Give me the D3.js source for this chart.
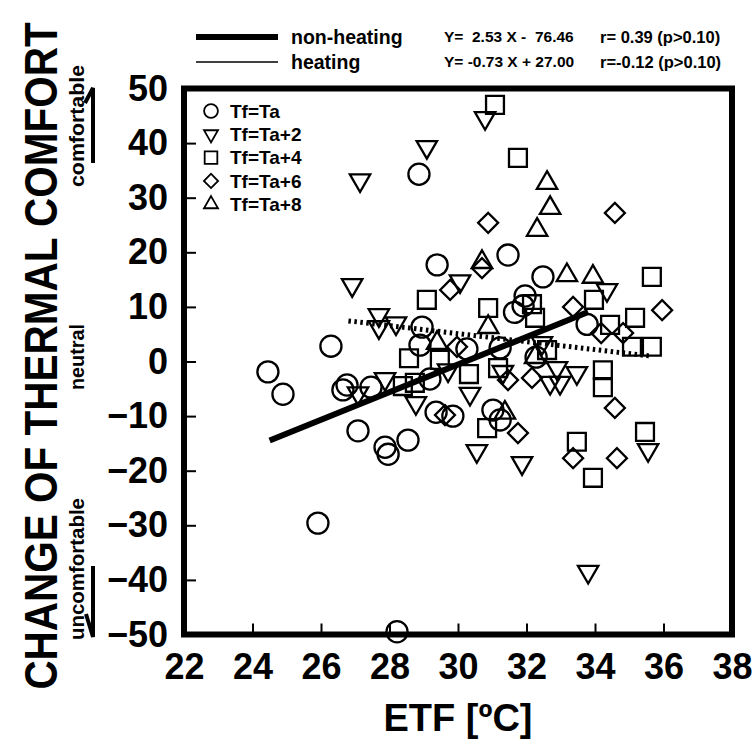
<!DOCTYPE html>
<html lang="en">
	<head>
		<meta charset="utf-8">
		<title>Thermal comfort vs ETF</title>
		<script type="text/javascript" src="https://cdn.jsdelivr.net/npm/d3@7"></script>
		<style type="text/css">
			body { margin: 0; background: #fff; }
			text { font-family: "Liberation Sans", Arial, sans-serif; font-weight: bold; fill: #000; }
		</style>
	</head>
	<body>
		<script type="text/javascript">

			//Width and height
			var w = 754;
			var h = 747;

			//Series: [ETF, change of thermal comfort]
			var tfTa = [[24.45,-1.9],[24.89,-6.0],[26.29,2.8],[25.91,-29.6],[28.22,-49.5],[28.86,34.3],
						[29.39,17.7],[31.46,19.5],[32.48,15.5],[28.95,6.3],[28.89,3.0],[30.26,2.3],
						[31.65,9.0],[31.96,12.0],[31.9,10.2],[33.77,6.8],[31.23,2.5],[32.28,0.8],
						[26.76,-4.3],[26.64,-5.2],[27.46,-4.7],[29.18,-3.2],[27.08,-12.7],[27.87,-15.7],
						[27.96,-17.0],[28.54,-14.4],[29.36,-9.3],[29.85,-10.0],[31.02,-8.9],[31.23,-10.7]];
			var tfTa2 = [[27.14,33.2],[29.09,39.3],[30.79,44.6],[26.91,14.0],[27.69,8.5],[27.69,6.3],
						[28.19,7.0],[30.06,14.7],[34.35,13.1],[27.87,-3.2],[27.08,-5.8],[29.71,-1.6],
						[28.77,-7.6],[30.35,-5.9],[30.55,-16.4],[31.87,-18.6],[33.8,-38.5],[35.55,-16.2],
						[32.45,3.4],[32.89,-1.2],[33.47,-2.1],[32.69,-3.9],[32.98,-3.9],[31.31,-1.9]];
			var tfTa4 = [[31.08,47.0],[31.75,37.3],[29.09,11.3],[28.57,0.6],[29.47,0.3],[30.32,-2.3],
						[28.39,-4.5],[28.74,-3.9],[30.88,9.8],[32.16,10.5],[32.25,8.0],[33.97,11.3],
						[35.66,15.5],[35.17,8.0],[34.44,6.7],[35.08,2.7],[35.66,2.7],[32.6,2.1],
						[31.17,-1.2],[34.23,-1.6],[34.23,-4.7],[30.85,-12.2],[33.47,-14.7],[35.46,-12.9],
						[33.94,-21.3]];
			var tfTa6 = [[34.58,27.2],[30.88,25.4],[29.77,13.1],[30.7,17.1],[33.36,10.0],[35.96,9.4],
						[34.18,5.2],[34.82,5.2],[29.97,2.7],[32.16,-3.0],[31.46,-3.4],[29.62,-9.8],
						[31.75,-13.1],[34.58,-8.5],[33.36,-17.7],[34.64,-17.7]];
			var tfTa8 = [[32.6,32.7],[32.69,28.1],[32.31,24.1],[30.7,18.2],[33.18,15.8],[33.94,15.5],
						[29.39,3.4],[30.88,6.3],[31.37,-9.4],[32.25,0.8]];

			var seriesNames = ["Tf=Ta", "Tf=Ta+2", "Tf=Ta+4", "Tf=Ta+6", "Tf=Ta+8"];
			var seriesData = [tfTa, tfTa2, tfTa4, tfTa6, tfTa8];

			//Regression lines
			var fitNames = ["non-heating", "heating"];
			var fitSlope = [2.53, -0.73];
			var fitIntercept = [-76.46, 27.00];
			var fitRange = [[24.5, 33.8], [26.8, 35.6]];
			var fitEquation = ["Y=  2.53 X -  76.46", "Y= -0.73 X + 27.00"];
			var fitStats = ["r= 0.39 (p>0.10)", "r=-0.12 (p>0.10)"];

			var xTicks = [22, 24, 26, 28, 30, 32, 34, 36, 38];
			var yTicks = [50, 40, 30, 20, 10, 0, -10, -20, -30, -40, -50];

			var svg = d3.select("body")
						.append("svg")
						.attr("width", w)
						.attr("height", h);

			var xScale = d3.scaleLinear().domain([22, 38]).range([184, 732]);
			var yScale = d3.scaleLinear().domain([-50, 50]).range([634.5, 88.5]);

			//axes with inward ticks
			var xAxis = svg.append("g")
				.attr("transform", "translate(0," + yScale(-50) + ")")
				.call(d3.axisBottom(xScale).tickValues(xTicks).tickSizeInner(-11).tickSizeOuter(0).tickPadding(19).tickFormat(d3.format("d")));
			var yAxis = svg.append("g")
				.attr("transform", "translate(" + xScale(22) + ",0)")
				.call(d3.axisLeft(yScale).tickValues(yTicks).tickSizeInner(-12).tickSizeOuter(0).tickPadding(16).tickFormat(d3.format("d")));

			[xAxis, yAxis].forEach(function(a) {
				a.select(".domain").remove();
				a.selectAll("line").attr("stroke", "#000").attr("stroke-width", 2);
				a.selectAll("text").attr("font-size", "36px").attr("font-family", "Liberation Sans, Arial, sans-serif").attr("font-weight", "bold").attr("fill", "#000");
			});
			xAxis.selectAll("text").attr("dy", "0.71em");

			//symbols
			var symbolFor = [
				d3.symbol().type(d3.symbolCircle).size(350),
				d3.symbol().type(d3.symbolTriangle).size(180),
				d3.symbol().type(d3.symbolSquare).size(320),
				d3.symbol().type(d3.symbolSquare).size(200),
				d3.symbol().type(d3.symbolTriangle).size(180)
			];
			var rotateFor = [0, 180, 0, 45, 0];

			seriesData.forEach(function(data, k) {
				svg.append("g").selectAll("path")
				   .data(data)
				   .enter()
				   .append("path")
				   .attr("d", symbolFor[k])
				   .attr("transform", function(d) {
				   		return "translate(" + xScale(d[0]) + "," + yScale(d[1]) + ") rotate(" + rotateFor[k] + ")";
				   })
				   .attr("fill", "none")
				   .attr("stroke", "#000")
				   .attr("stroke-width", 2.3);
			});

			//regression lines
			fitNames.forEach(function(n, i) {
				var pts = fitRange[i].map(function(x) { return [x, fitSlope[i] * x + fitIntercept[i]]; });
				svg.append("line")
				   .attr("x1", xScale(pts[0][0])).attr("y1", yScale(pts[0][1]))
				   .attr("x2", xScale(pts[1][0])).attr("y2", yScale(pts[1][1]))
				   .attr("stroke", "#000")
				   .attr("stroke-width", i == 0 ? 6 : 5)
				   .attr("stroke-dasharray", i == 0 ? null : "2.5,3.5");
			});

			//frame
			svg.append("rect")
			   .attr("x", xScale(22)).attr("y", yScale(50))
			   .attr("width", xScale(38) - xScale(22)).attr("height", yScale(-50) - yScale(50))
			   .attr("fill", "none").attr("stroke", "#000").attr("stroke-width", 6);

			//inner legend
			var legend = svg.append("g").selectAll("g")
				.data(seriesNames)
				.enter()
				.append("g")
				.attr("transform", function(d, i) { return "translate(211," + (111 + i * 23.3) + ")"; });
			legend.append("path")
				.attr("d", function(d, i) {
					var s = [150, 85, 160, 100, 85][i];
					return d3.symbol().type([d3.symbolCircle, d3.symbolTriangle, d3.symbolSquare, d3.symbolSquare, d3.symbolTriangle][i]).size(s)();
				})
				.attr("transform", function(d, i) { return "rotate(" + rotateFor[i] + ")"; })
				.attr("fill", "none").attr("stroke", "#000").attr("stroke-width", 1.8);
			legend.append("text")
				.attr("x", 19).attr("dy", "0.36em")
				.attr("font-size", "19px")
				.text(function(d) { return d; });

			//header legend
			fitNames.forEach(function(n, i) {
				var yy = [37, 62][i];
				svg.append("line")
				   .attr("x1", 196).attr("x2", 278).attr("y1", yy).attr("y2", yy)
				   .attr("stroke", "#000").attr("stroke-width", i == 0 ? 6 : 1.5);
				svg.append("text").attr("x", 291).attr("y", yy).attr("dy", "0.35em")
				   .attr("font-size", "19.5px").text(n);
				svg.append("text").attr("x", 444).attr("y", yy).attr("dy", "0.35em")
				   .attr("font-size", "15.5px").style("white-space", "pre")
				   .text(fitEquation[i]);
				svg.append("text").attr("x", 600).attr("y", yy).attr("dy", "0.35em")
				   .attr("font-size", "16.5px")
				   .text(fitStats[i]);
			});

			//axis titles
			svg.append("text")
			   .attr("x", 458).attr("y", 718).attr("dy", "0.35em")
			   .attr("text-anchor", "middle").attr("font-size", "38px")
			   .text("ETF [ºC]");
			svg.append("text")
			   .attr("transform", "translate(41,356) rotate(-90) scale(1,1.12)")
			   .attr("dy", "0.35em")
			   .attr("text-anchor", "middle").attr("font-size", "40.5px")
			   .text("CHANGE OF THERMAL COMFORT");

			var sideLabels = ["comfortable", "neutral", "uncomfortable"];
			var sideY = [126, 357, 569];
			var sideLen = [122, 66, 142];
			sideLabels.forEach(function(s, i) {
				svg.append("text")
				   .attr("transform", "translate(77," + sideY[i] + ") rotate(-90)")
				   .attr("dy", "0.35em")
				   .attr("text-anchor", "middle").attr("font-size", "20px")
				   .attr("textLength", sideLen[i]).attr("lengthAdjust", "spacingAndGlyphs")
				   .text(s);
			});

			//half arrows beside the comfort scale
			svg.append("path")
			   .attr("d", "M93,163 L93,88 L85,103")
			   .attr("fill", "none").attr("stroke", "#000").attr("stroke-width", 4);
			svg.append("path")
			   .attr("d", "M93,566 L93,637 L86,614")
			   .attr("fill", "none").attr("stroke", "#000").attr("stroke-width", 4);

		</script>
	</body>
</html>
